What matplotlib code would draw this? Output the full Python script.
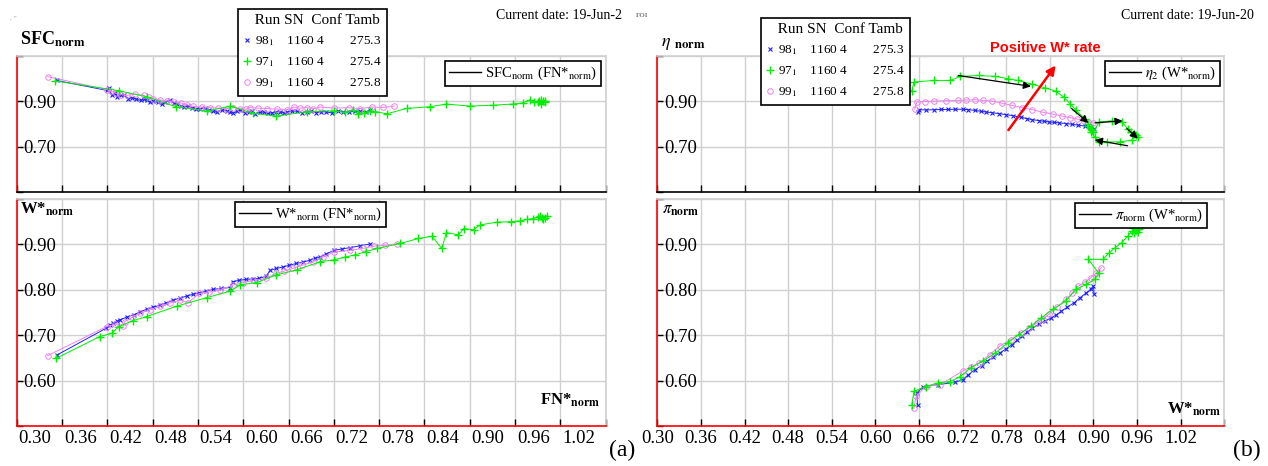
# %% Import modules
import numpy as np
import matplotlib
matplotlib.use('Agg')
import matplotlib.pyplot as plt
from matplotlib.lines import Line2D

plt.rcParams['font.family'] = ['Liberation Serif', 'DejaVu Serif']
plt.rcParams['mathtext.fontset'] = 'stix'

# %% Data
runs = ['98', '97', '99']
run_sn = ['1160', '1160', '1160']
run_conf = ['4', '4', '4']
run_tamb = ['275.3', '275.4', '275.8']

# (a) top: SFC_norm vs FN*_norm
fn_sfc_98 = [0.353, 0.420, 0.422, 0.426, 0.430, 0.433, 0.438, 0.442, 0.448, 0.453,
             0.458, 0.464, 0.468, 0.473, 0.477, 0.481, 0.487, 0.492, 0.497, 0.503,
             0.508, 0.512, 0.517, 0.521, 0.527, 0.532, 0.538, 0.543, 0.549, 0.554,
             0.560, 0.565, 0.572, 0.578, 0.583, 0.587, 0.592, 0.596, 0.602, 0.607,
             0.612, 0.616, 0.622, 0.627, 0.633, 0.638, 0.644, 0.649, 0.654, 0.658,
             0.665, 0.671, 0.678, 0.684, 0.690, 0.697, 0.703, 0.710, 0.718, 0.725,
             0.732, 0.740, 0.748, 0.755, 0.762, 0.768]
sfc_98 = [0.992, 0.948, 0.960, 0.926, 0.935, 0.919, 0.930, 0.926, 0.912, 0.916,
          0.910, 0.904, 0.912, 0.907, 0.898, 0.901, 0.895, 0.887, 0.896, 0.904,
          0.893, 0.887, 0.880, 0.875, 0.879, 0.872, 0.866, 0.868, 0.872, 0.861,
          0.857, 0.852, 0.862, 0.858, 0.853, 0.849, 0.856, 0.861, 0.850, 0.853,
          0.858, 0.846, 0.851, 0.853, 0.847, 0.849, 0.855, 0.853, 0.848, 0.852,
          0.858, 0.856, 0.850, 0.853, 0.857, 0.850, 0.855, 0.853, 0.849, 0.858,
          0.854, 0.852, 0.857, 0.856, 0.853, 0.860]
fn_sfc_97 = [0.351, 0.435, 0.472, 0.511, 0.552, 0.583, 0.613, 0.644, 0.684, 0.720,
             0.735, 0.745, 0.752, 0.760, 0.768, 0.775, 0.790, 0.817, 0.847, 0.869,
             0.900, 0.931, 0.957, 0.970, 0.980, 0.985, 0.990, 0.994, 0.997, 1.000,
             0.994, 0.999, 0.992]
sfc_97 = [0.990, 0.947, 0.920, 0.876, 0.857, 0.879, 0.847, 0.835, 0.854, 0.858,
          0.852, 0.862, 0.846, 0.848, 0.858, 0.855, 0.845, 0.869, 0.876, 0.888,
          0.879, 0.883, 0.888, 0.893, 0.906, 0.897, 0.895, 0.905, 0.903, 0.897,
          0.890, 0.900, 0.902]
fn_sfc_99 = [0.341, 0.420, 0.425, 0.431, 0.438, 0.446, 0.457, 0.468, 0.475, 0.481,
             0.490, 0.499, 0.508, 0.517, 0.525, 0.534, 0.545, 0.556, 0.567, 0.578,
             0.587, 0.596, 0.603, 0.609, 0.620, 0.631, 0.645, 0.658, 0.667, 0.675,
             0.684, 0.693, 0.702, 0.720, 0.740, 0.755, 0.770, 0.785, 0.800]
sfc_99 = [1.009, 0.951, 0.944, 0.936, 0.930, 0.926, 0.932, 0.926, 0.918, 0.912,
          0.906, 0.901, 0.897, 0.893, 0.885, 0.878, 0.875, 0.872, 0.870, 0.868,
          0.872, 0.868, 0.865, 0.872, 0.870, 0.868, 0.866, 0.863, 0.875, 0.870,
          0.872, 0.868, 0.875, 0.870, 0.872, 0.868, 0.875, 0.873, 0.879]

# (a) bottom: W*_norm vs FN*_norm
fn_w_98 = [0.354, 0.418, 0.423, 0.428, 0.433, 0.437, 0.446, 0.455, 0.463, 0.472,
           0.481, 0.490, 0.498, 0.507, 0.516, 0.525, 0.533, 0.542, 0.551, 0.560,
           0.571, 0.582, 0.586, 0.595, 0.604, 0.613, 0.621, 0.630, 0.636, 0.644,
           0.652, 0.661, 0.670, 0.679, 0.688, 0.695, 0.701, 0.710, 0.720, 0.731,
           0.742, 0.755, 0.768]
w_fn_98 = [0.657, 0.715, 0.722, 0.726, 0.731, 0.734, 0.740, 0.745, 0.751, 0.757,
           0.762, 0.766, 0.771, 0.777, 0.782, 0.786, 0.790, 0.793, 0.797, 0.801,
           0.803, 0.805, 0.818, 0.821, 0.823, 0.824, 0.825, 0.830, 0.843, 0.847,
           0.850, 0.854, 0.858, 0.861, 0.865, 0.869, 0.872, 0.879, 0.887, 0.890,
           0.893, 0.897, 0.901]
fn_w_97 = [0.352, 0.410, 0.426, 0.435, 0.454, 0.472, 0.512, 0.552, 0.583, 0.596,
           0.618, 0.644, 0.671, 0.702, 0.720, 0.735, 0.748, 0.762, 0.777, 0.808,
           0.832, 0.850, 0.863, 0.869, 0.885, 0.892, 0.905, 0.914, 0.936, 0.955,
           0.967, 0.976, 0.984, 0.990, 0.995, 1.002, 0.997, 0.993, 1.000]
w_fn_97 = [0.649, 0.697, 0.704, 0.719, 0.732, 0.741, 0.764, 0.783, 0.797, 0.811,
           0.816, 0.833, 0.844, 0.862, 0.866, 0.872, 0.877, 0.884, 0.891, 0.902,
           0.913, 0.918, 0.891, 0.926, 0.921, 0.935, 0.932, 0.943, 0.949, 0.950,
           0.952, 0.955, 0.957, 0.960, 0.958, 0.963, 0.955, 0.962, 0.958]
fn_w_99 = [0.341, 0.419, 0.430, 0.441, 0.443, 0.453, 0.463, 0.476, 0.490, 0.503,
           0.516, 0.527, 0.542, 0.555, 0.569, 0.586, 0.600, 0.613, 0.630, 0.643,
           0.654, 0.665, 0.678, 0.692, 0.705, 0.720, 0.742, 0.758, 0.773, 0.788,
           0.804]
w_fn_99 = [0.655, 0.719, 0.724, 0.720, 0.730, 0.739, 0.748, 0.756, 0.764, 0.771,
           0.777, 0.772, 0.792, 0.795, 0.799, 0.810, 0.816, 0.821, 0.825, 0.836,
           0.841, 0.847, 0.854, 0.861, 0.872, 0.883, 0.887, 0.891, 0.896, 0.898,
           0.901]

# (b) top: eta_norm vs W*_norm
w_eta_98 = [0.658, 0.660, 0.670, 0.680, 0.690, 0.700, 0.710, 0.720, 0.728, 0.737,
            0.745, 0.752, 0.760, 0.770, 0.780, 0.790, 0.800, 0.808, 0.816, 0.825,
            0.832, 0.839, 0.846, 0.853, 0.862, 0.870, 0.879, 0.888, 0.896, 0.901]
eta_98 = [0.853, 0.863, 0.862, 0.863, 0.864, 0.864, 0.865, 0.865, 0.863, 0.860,
          0.856, 0.853, 0.850, 0.846, 0.841, 0.836, 0.830, 0.824, 0.819, 0.815,
          0.812, 0.809, 0.807, 0.805, 0.802, 0.799, 0.795, 0.791, 0.787, 0.780]
w_eta_97 = [0.650, 0.653, 0.680, 0.703, 0.717, 0.742, 0.765, 0.782, 0.796, 0.816,
            0.833, 0.848, 0.859, 0.868, 0.876, 0.888, 0.893, 0.897, 0.900, 0.908,
            0.925, 0.939, 0.947, 0.952, 0.956, 0.961, 0.958, 0.953, 0.936, 0.919,
            0.908, 0.902, 0.896, 0.892, 0.898]
eta_97 = [0.944, 0.985, 0.992, 0.992, 1.010, 1.014, 1.010, 1.000, 0.992, 0.975,
          0.960, 0.945, 0.919, 0.890, 0.860, 0.824, 0.802, 0.780, 0.765, 0.809,
          0.814, 0.809, 0.780, 0.766, 0.758, 0.743, 0.752, 0.729, 0.721, 0.721,
          0.721, 0.743, 0.765, 0.790, 0.772]
w_eta_99 = [0.654, 0.657, 0.668, 0.680, 0.697, 0.714, 0.725, 0.737, 0.748, 0.760,
            0.774, 0.788, 0.802, 0.816, 0.830, 0.845, 0.857, 0.868, 0.877, 0.885,
            0.892, 0.899]
eta_99 = [0.865, 0.897, 0.899, 0.901, 0.903, 0.904, 0.906, 0.907, 0.904, 0.901,
          0.892, 0.882, 0.872, 0.863, 0.852, 0.843, 0.835, 0.828, 0.822, 0.816,
          0.811, 0.805]

# direction arrows along eta_2 and the "positive rate" arrow
eta2_arrow_from = [(0.714, 1.014), (0.870, 0.868), (0.902, 0.805), (0.946, 0.780), (0.947, 0.704)]
eta2_arrow_to = [(0.814, 0.966), (0.893, 0.805), (0.940, 0.814), (0.961, 0.736), (0.902, 0.729)]
rate_arrow_from = (0.783, 0.773)
rate_arrow_to = (0.848, 1.058)

# (b) bottom: pi_norm vs W*_norm
w_pi_98 = [0.658, 0.657, 0.666, 0.686, 0.709, 0.720, 0.728, 0.737, 0.746, 0.754,
           0.762, 0.771, 0.780, 0.788, 0.795, 0.802, 0.809, 0.816, 0.825, 0.833,
           0.842, 0.849, 0.856, 0.864, 0.873, 0.881, 0.890, 0.896, 0.900, 0.901]
pi_98 = [0.546, 0.573, 0.587, 0.591, 0.596, 0.602, 0.613, 0.624, 0.633, 0.643,
         0.652, 0.661, 0.670, 0.679, 0.689, 0.698, 0.707, 0.716, 0.724, 0.731,
         0.738, 0.745, 0.753, 0.762, 0.771, 0.782, 0.793, 0.801, 0.808, 0.790]
w_pi_97 = [0.650, 0.653, 0.669, 0.686, 0.703, 0.717, 0.731, 0.748, 0.765, 0.782,
           0.797, 0.814, 0.828, 0.845, 0.862, 0.876, 0.890, 0.902, 0.907, 0.893,
           0.913, 0.922, 0.930, 0.939, 0.947, 0.953, 0.959, 0.956, 0.962, 0.958,
           0.955, 0.961]
pi_97 = [0.546, 0.576, 0.587, 0.595, 0.598, 0.609, 0.628, 0.643, 0.661, 0.683,
         0.701, 0.720, 0.738, 0.758, 0.775, 0.801, 0.812, 0.823, 0.837, 0.867,
         0.867, 0.882, 0.893, 0.904, 0.918, 0.929, 0.937, 0.926, 0.935, 0.931,
         0.937, 0.928]
w_pi_99 = [0.653, 0.656, 0.669, 0.689, 0.720, 0.731, 0.743, 0.757, 0.771, 0.786,
           0.800, 0.811, 0.822, 0.830, 0.839, 0.850, 0.862, 0.871, 0.879, 0.888,
           0.896, 0.904, 0.911]
pi_99 = [0.540, 0.565, 0.587, 0.591, 0.621, 0.630, 0.639, 0.657, 0.676, 0.690,
         0.705, 0.716, 0.727, 0.736, 0.746, 0.762, 0.779, 0.793, 0.808, 0.817,
         0.826, 0.837, 0.849]

x_ticks = np.round(np.arange(0.30, 1.081, 0.06), 2)
x_labels = ['%.2f' % v for v in x_ticks[:-1]]

# %% Styles
W, H = 1268, 466
styles = {'98': dict(color='#2020ff', marker='x', ms=3.5, mew=0.8, lw=0.7),
          '97': dict(color='#00ee00', marker='+', ms=6, mew=1.0, lw=0.7),
          '99': dict(color='#ee82ee', marker='o', ms=4, mew=0.7, mfc='none', lw=0.7)}


def fpos(x, y):
    return x / W, 1 - y / H


def style_axes(ax, top, ylim, yticks, ylabels, shift_labels):
    ax.set_xlim(0.30, 1.08)
    ax.set_ylim(*ylim)
    ax.set_yticks(yticks, labels=ylabels)
    ax.set_xticks(x_ticks, labels=[] if shift_labels or top else x_labels + [''])
    if shift_labels and not top:
        ax.set_xticks(x_ticks[:-1] + 0.024, labels=x_labels, minor=True)
    ax.tick_params(axis='x', which='minor', length=0, labelsize=13.5, pad=3)
    ax.tick_params(axis='x', which='major', direction='in', length=5, width=1,
                   labelsize=13.5, pad=3)
    if top:
        ax.tick_params(axis='x', which='both', labelbottom=False)
    ax.tick_params(axis='y', direction='in', length=4, width=1, labelsize=13.5, pad=-5)
    plt.setp(ax.get_yticklabels(), ha='left')
    ax.grid(True, which='major', color='#d0d0d0', lw=1)
    ax.spines['left'].set_color('red')
    ax.spines['bottom'].set_color('black' if top else 'red')
    ax.spines['top'].set_color('#d0d0d0')
    ax.spines['right'].set_color('#d0d0d0')
    for s in ax.spines.values():
        s.set_linewidth(1.2)


def run_legend(ax, x0, y0):
    handles = [Line2D([], [], ls='none', **{k: v for k, v in styles[r].items() if k != 'lw'})
               for r in runs]
    labels = ['%s$_1$    %s %s        %s' % (r, sn, c, t)
              for r, sn, c, t in zip(runs, run_sn, run_conf, run_tamb)]
    leg = ax.legend(handles, labels, title='   Run SN  Conf Tamb', loc='upper left',
                    bbox_to_anchor=fpos(x0, y0), bbox_transform=fig.transFigure,
                    fancybox=False, edgecolor='k', framealpha=1, fontsize=9.5,
                    title_fontsize=11, alignment='left', handlelength=0.6,
                    handletextpad=0.3, borderpad=0.4, labelspacing=0.55,
                    borderaxespad=0)
    leg.get_frame().set_linewidth(1.2)
    return leg


def func_legend(ax, label, x1, y0):
    leg = ax.legend([Line2D([], [], color='k', lw=1)], [label], loc='upper right',
                    bbox_to_anchor=fpos(x1, y0), bbox_transform=fig.transFigure,
                    fancybox=False, edgecolor='k', framealpha=1, fontsize=10.5,
                    handlelength=2.2, handletextpad=0.3, borderpad=0.25,
                    borderaxespad=0)
    leg.get_frame().set_linewidth(1.2)
    return leg


# %% Figure and axes
fig = plt.figure(figsize=(W / 100, H / 100), dpi=100)
ax_tl = fig.add_axes([16.7 / W, (H - 192) / H, 589 / W, 136 / H])
ax_bl = fig.add_axes([16.7 / W, (H - 426) / H, 589 / W, 227 / H])
ax_tr = fig.add_axes([657.3 / W, (H - 192) / H, 567 / W, 136 / H])
ax_br = fig.add_axes([657.3 / W, (H - 426) / H, 567 / W, 227 / H])

top_ticks = [0.5, 0.7, 0.9, 1.1]
top_labels = ['', '0.70', '0.90', '']
bot_ticks = [0.5, 0.6, 0.7, 0.8, 0.9, 1.0]
bot_labels = ['', '0.60', '0.70', '0.80', '0.90', '']

# %% (a) panels
ax_tl.plot(fn_sfc_98, sfc_98, **styles['98'])
ax_tl.plot(fn_sfc_99, sfc_99, **styles['99'])
ax_tl.plot(fn_sfc_97, sfc_97, **styles['97'])
style_axes(ax_tl, True, (0.5, 1.1), top_ticks, top_labels, True)

ax_bl.plot(fn_w_98, w_fn_98, **styles['98'])
ax_bl.plot(fn_w_99, w_fn_99, **styles['99'])
ax_bl.plot(fn_w_97, w_fn_97, **styles['97'])
style_axes(ax_bl, False, (0.5, 1.0), bot_ticks, bot_labels, True)

# %% (b) panels
ax_tr.plot(w_eta_98, eta_98, **styles['98'])
ax_tr.plot(w_eta_99, eta_99, **styles['99'])
ax_tr.plot(w_eta_97, eta_97, **styles['97'])
for p0, p1 in zip(eta2_arrow_from, eta2_arrow_to):
    ax_tr.annotate('', xy=p1, xytext=p0,
                   arrowprops=dict(arrowstyle='-|>', color='k', lw=0.9,
                                   mutation_scale=11, shrinkA=0, shrinkB=0))
ax_tr.annotate('', xy=rate_arrow_to, xytext=rate_arrow_from, annotation_clip=False,
               arrowprops=dict(arrowstyle='-|>', color='red', lw=1.8,
                               mutation_scale=13, shrinkA=0, shrinkB=0))
ax_tr.text(0.834, 1.103, 'Positive W* rate', color='red', fontsize=10.5,
           fontweight='bold', family='Liberation Sans', ha='center', va='bottom',
           clip_on=False)
style_axes(ax_tr, True, (0.5, 1.1), top_ticks, top_labels, False)

ax_br.plot(w_pi_98, pi_98, **styles['98'])
ax_br.plot(w_pi_99, pi_99, **styles['99'])
ax_br.plot(w_pi_97, pi_97, **styles['97'])
style_axes(ax_br, False, (0.5, 1.0), bot_ticks, bot_labels, False)

# %% Legends
leg = run_legend(ax_tl, 238, 9)
ax_tl.add_artist(leg)
func_legend(ax_tl, r'SFC$_{\rm norm}$ (FN*$_{\rm norm}$)', 601, 61)
func_legend(ax_bl, r'W*$_{\rm norm}$ (FN*$_{\rm norm}$)', 386, 202)
leg = run_legend(ax_tr, 761, 18)
ax_tr.add_artist(leg)
func_legend(ax_tr, r'$\eta_2$ (W*$_{\rm norm}$)', 1220, 61)
func_legend(ax_br, r'$\pi_{\rm norm}$ (W*$_{\rm norm}$)', 1207, 203)

# %% Axis names and decorations
fig.text(*fpos(20, 45), r'SFC$_{\mathbf{norm}}$', fontsize=13, fontweight='bold')
fig.text(*fpos(20, 214), r'W*$_{\mathbf{norm}}$', fontsize=12, fontweight='bold')
fig.text(*fpos(540, 405), r'FN*$_{\mathbf{norm}}$', fontsize=12, fontweight='bold')
fig.text(*fpos(661, 46), r'$\eta\ _{\mathbf{norm}}$', fontsize=13)
fig.text(*fpos(662, 214), r'$\pi_{\mathbf{norm}}$', fontsize=12)
fig.text(*fpos(1167, 414), r'W*$_{\mathbf{norm}}$', fontsize=12, fontweight='bold')

fig.text(*fpos(496, 19), 'Current date: 19-Jun-2', fontsize=10)
fig.text(*fpos(1121, 19), 'Current date: 19-Jun-20', fontsize=10)
fig.text(*fpos(636, 17), 'FOI', fontsize=5, color='#777777', fontweight='bold')
fig.text(*fpos(10, 19), ', \u201d', fontsize=5, color='#999999')

fig.text(*fpos(622, 450), '(a)', fontsize=17, ha='center', va='center')
fig.text(*fpos(1247, 450), '(b)', fontsize=17, ha='center', va='center')

fig.savefig('out.png', dpi=100)
